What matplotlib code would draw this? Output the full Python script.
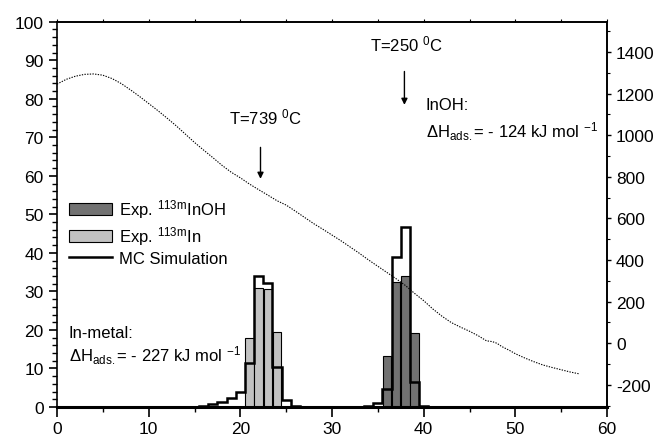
import matplotlib
matplotlib.use("Agg")
import matplotlib.pyplot as plt
from matplotlib.patches import Patch
from matplotlib.lines import Line2D
from matplotlib.ticker import MultipleLocator

plt.rcParams['font.family'] = ['Liberation Sans', 'DejaVu Sans']
plt.rcParams['mathtext.fontset'] = 'custom'
plt.rcParams['mathtext.rm'] = 'Liberation Sans'
plt.rcParams['mathtext.it'] = 'Liberation Sans'
plt.rcParams['axes.unicode_minus'] = False

# ---- data ----
in_exp_x = [21, 22, 23, 24]
in_exp_y = [17.8, 31.0, 30.5, 19.5]
inoh_exp_x = [36, 37, 38, 39]
inoh_exp_y = [13.3, 32.5, 34.0, 19.1]

in_mc_edges = [15.5, 16.5, 17.5, 18.5, 19.5, 20.5, 21.5, 22.5, 23.5, 24.5, 25.5, 26.5]
in_mc_vals = [0.2, 0.7, 1.4, 2.4, 3.8, 11.3, 34.0, 32.2, 10.5, 1.8, 0.3]
inoh_mc_edges = [33.5, 34.5, 35.5, 36.5, 37.5, 38.5, 39.5, 40.5]
inoh_mc_vals = [0.2, 1.0, 4.7, 39.0, 46.6, 6.6, 0.3]

temp_x = [0, 1, 2, 3, 4, 5, 6, 7, 8, 9, 10, 11, 12, 13, 14, 15, 16, 17, 18, 19,
          20, 21, 22, 23, 24, 25, 26, 27, 28, 29, 30, 31, 32, 33, 34, 35, 36, 37,
          38, 39, 40, 41, 42, 43, 44, 45, 46, 46.85, 47.5, 48, 48.5, 49.4, 50, 51,
          52, 53, 54, 55, 56, 57]
temp_y = [1245, 1268, 1283, 1292, 1294, 1288, 1272, 1248, 1218, 1186, 1152, 1118,
          1082, 1045, 1005, 965, 928, 892, 855, 822, 795, 765, 738, 712, 685, 664,
          635, 605, 575, 548, 520, 492, 462, 432, 400, 370, 340, 310, 278, 240, 205,
          165, 130, 100, 78, 58, 35, 12, 8, 0, -15, -35, -50, -70, -88, -104, -116,
          -127, -138, -147]

dark = '#727272'
light = '#c2c2c2'

fig = plt.figure(figsize=(6.62, 4.39), dpi=100)
ax = fig.add_axes([57/662, 31/439, 550/662, 385.3/439])

ax.bar(inoh_exp_x, inoh_exp_y, width=0.92, color=dark, edgecolor='black', linewidth=0.8, zorder=2)
ax.bar(in_exp_x, in_exp_y, width=0.92, color=light, edgecolor='black', linewidth=0.8, zorder=2)
ax.stairs(in_mc_vals, in_mc_edges, color='black', linewidth=1.8, zorder=3)
ax.stairs(inoh_mc_vals, inoh_mc_edges, color='black', linewidth=1.8, zorder=3)

ax.set_xlim(0, 60)
ax.set_ylim(0, 100)
ax.xaxis.set_major_locator(MultipleLocator(10))
ax.xaxis.set_minor_locator(MultipleLocator(5))
ax.yaxis.set_major_locator(MultipleLocator(10))
ax.yaxis.set_minor_locator(MultipleLocator(2))
ax.tick_params(axis='both', which='major', labelsize=12.5, direction='out', length=6, width=1.2, colors='black')
ax.tick_params(axis='both', which='minor', direction='out', length=3.5, width=1.0)
ax.tick_params(axis='x', which='major', length=7, pad=3)
for s in ['left', 'top', 'right']:
    ax.spines[s].set_linewidth(1.2)
ax.spines['bottom'].set_linewidth(2.2)

sec = ax.secondary_xaxis('top')
sec.xaxis.set_major_locator(MultipleLocator(5))
sec.tick_params(axis='x', which='major', direction='out', length=2.5, width=0.8, labeltop=False)
sec.spines['top'].set_linewidth(1.2)

ax2 = ax.twinx()
ax2.plot(temp_x, temp_y, color='black', linestyle=(0, (1.2, 1.2)), linewidth=0.8)
ax2.set_ylim(-306, 1545)
ax2.yaxis.set_major_locator(MultipleLocator(200))
ax2.yaxis.set_minor_locator(MultipleLocator(100))
ax2.tick_params(axis='y', which='major', labelsize=12.5, direction='out', length=3, width=1.0)
ax2.tick_params(axis='y', which='minor', direction='out', length=2, width=0.8)
ax2.spines['right'].set_linewidth(1.2)
for s in ['left', 'top', 'bottom']:
    ax2.spines[s].set_visible(False)

handles = [Patch(facecolor=dark, edgecolor='black', linewidth=0.8),
           Patch(facecolor=light, edgecolor='black', linewidth=0.8),
           Line2D([0], [0], color='black', linewidth=1.8)]
labels = ['Exp. $^{\\mathregular{113m}}$InOH', 'Exp. $^{\\mathregular{113m}}$In', 'MC Simulation']
ax.legend(handles, labels, loc='upper left', bbox_to_anchor=(0.0, 0.575), frameon=False,
          fontsize=12, handlelength=2.6, handleheight=0.75, handletextpad=0.4,
          labelspacing=0.25, borderaxespad=0.3)

fs = 12
ax.text(18.8, 75.4, 'T=739 $^{\\mathregular{0}}$C', fontsize=fs, ha='left', va='center')
ax.annotate('', xy=(22.2, 58.5), xytext=(22.2, 68.1),
            arrowprops=dict(arrowstyle='-|>', color='black', lw=1.0, mutation_scale=9))
ax.text(34.2, 94.3, 'T=250 $^{\\mathregular{0}}$C', fontsize=fs, ha='left', va='center')
ax.annotate('', xy=(37.9, 77.7), xytext=(37.9, 87.8),
            arrowprops=dict(arrowstyle='-|>', color='black', lw=1.0, mutation_scale=9))
ax.text(40.25, 78.5, 'InOH:', fontsize=fs, ha='left', va='center')
ax.text(40.25, 71.6, '$\\mathregular{\\Delta H_{ads.}}$= - 124 kJ mol $^{\\mathregular{-1}}$',
        fontsize=fs, ha='left', va='center')
ax.text(1.3, 19.4, 'In-metal:', fontsize=fs, ha='left', va='center')
ax.text(1.3, 13.7, '$\\mathregular{\\Delta H_{ads.}}$= - 227 kJ mol $^{\\mathregular{-1}}$',
        fontsize=fs, ha='left', va='center')

fig.savefig('out.png', dpi=100)
